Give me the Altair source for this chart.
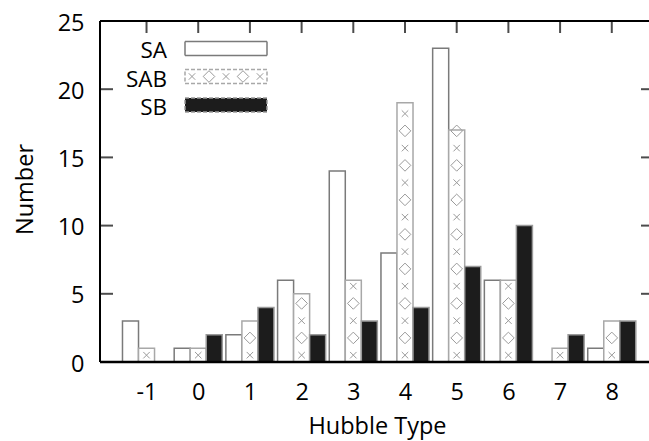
import altair as alt
import pandas as pd

# Galaxy counts per Hubble type for each bar family
hubble_types = [-1, 0, 1, 2, 3, 4, 5, 6, 7, 8]
sa_counts = [3, 1, 2, 6, 14, 8, 23, 6, 0, 1]
sab_counts = [1, 1, 3, 5, 6, 19, 17, 6, 1, 3]
sb_counts = [0, 2, 4, 2, 3, 4, 7, 10, 2, 3]
series_names = ["SA", "SAB", "SB"]
y_tick_values = [0, 5, 10, 15, 20, 25]

FONT = "Open Sans"
FS = 23.5
KEY_FS = 22.5
W, H = 549, 341
X_SCALE = alt.Scale(domain=[-1.9, 8.72], nice=False, zero=False)
Y_SCALE = alt.Scale(domain=[0, 25], nice=False, zero=False)
BAR_W = 0.31
GLYPH_STEP = 1.265  # vertical spacing of the hatch glyphs, in count units

X_AXIS = alt.Axis(
    values=hubble_types, labelExpr="'' + datum.value", ticks=False, domain=False, grid=False,
    labelFont=FONT, labelFontSize=FS, labelColor="black", labelPadding=18,
    title="Hubble Type", titleFont=FONT, titleFontSize=FS, titleFontWeight="normal",
    titleColor="black", titleX=277, titleY=71, titleBaseline="alphabetic",
    titleAnchor="middle",
)
Y_AXIS = alt.Axis(
    values=y_tick_values, ticks=False, domain=False, grid=False,
    labelFont=FONT, labelFontSize=FS, labelColor="black", labelPadding=16,
    labelOffset=2,
    title="Number", titleFont=FONT, titleFontSize=FS, titleFontWeight="normal",
    titleColor="black", titleAngle=270, titleX=-68, titleY=168,
    titleBaseline="alphabetic", titleAlign="center",
)

def xq(field):
    return alt.X(field, scale=X_SCALE, axis=X_AXIS, title="Hubble Type")

def yq(field):
    return alt.Y(field, scale=Y_SCALE, axis=Y_AXIS, title="Number")

# long table of bars
rows = []
for t, a, ab, b in zip(hubble_types, sa_counts, sab_counts, sb_counts):
    for name, v in zip(series_names, (a, ab, b)):
        rows.append({"type": t, "series": name, "count": v})
bars_df = pd.DataFrame(rows)

# hatch glyphs stacked inside each SAB bar (alternating x / diamond)
glyph_rows = []
for t, v in zip(hubble_types, sab_counts):
    k = 0
    while 0.5 + k * GLYPH_STEP < v:
        glyph_rows.append({"type": t, "level": 0.5 + k * GLYPH_STEP,
                           "glyph": "x" if k % 2 == 0 else "diamond"})
        k += 1
glyph_df = pd.DataFrame(glyph_rows)

one = alt.Data(values=[{}])

bars = (
    alt.Chart(bars_df)
    .transform_filter("datum.count > 0")
    .transform_calculate(slot="indexof(['SA','SAB','SB'], datum.series) - 1")
    .transform_calculate(
        left=f"datum.type + datum.slot * {BAR_W} - {BAR_W / 2}",
        right=f"datum.type + datum.slot * {BAR_W} + {BAR_W / 2}",
    )
    .mark_rect(strokeWidth=1.5)
    .encode(
        x=xq("left:Q"),
        x2="right:Q",
        y=yq("count:Q"),
        y2=alt.datum(0),
        fill=alt.Fill("series:N", scale=alt.Scale(domain=series_names,
                                                   range=["white", "white", "#1c1c1c"]), legend=None),
        stroke=alt.Stroke("series:N", scale=alt.Scale(domain=series_names,
                                                       range=["#7a7a7a", "#a8a8a8", "#9a9a9a"]), legend=None),
        strokeDash=alt.StrokeDash("series:N", scale=alt.Scale(domain=series_names,
                                                               range=[[1, 0], [4, 2], [4, 2]]), legend=None),
    )
)

X_GLYPH = "M-1,-1L1,1M1,-1L-1,1"

def glyph_layer(kind, shape, size):
    return (
        alt.Chart(glyph_df)
        .transform_filter(f"datum.glyph == '{kind}'")
        .mark_point(shape=shape, size=size, filled=False, stroke="#9a9a9a", strokeWidth=1, opacity=1)
        .encode(x=xq("type:Q"), y=yq("level:Q"))
    )

glyph_x = glyph_layer("x", X_GLYPH, 42)
glyph_d = glyph_layer("diamond", "diamond", 135)

# inward ticks on all four sides
tick_y = pd.DataFrame({"yv": y_tick_values})
tick_x = pd.DataFrame({"xv": hubble_types})
left_ticks = alt.Chart(tick_y).mark_tick(color="black", thickness=2, size=13, orient="horizontal").encode(
    y=yq("yv:Q"), x=alt.value(6.5))
right_ticks = alt.Chart(tick_y).mark_tick(color="black", thickness=2, size=8, orient="horizontal").encode(
    y=yq("yv:Q"), x=alt.value(W - 4))
top_ticks = alt.Chart(tick_x).mark_tick(color="black", thickness=2, size=12, orient="vertical").encode(
    x=xq("xv:Q"), y=alt.value(6))
bottom_ticks = alt.Chart(tick_x).mark_tick(color="black", thickness=2, size=12, orient="vertical").encode(
    x=xq("xv:Q"), y=alt.value(H - 6))

# frame: top, left and bottom border
frame_top = alt.Chart(one).mark_rule(color="black", strokeWidth=2).encode(
    x=alt.value(0), x2=alt.value(W), y=alt.value(0))
frame_left = alt.Chart(one).mark_rule(color="black", strokeWidth=2).encode(
    x=alt.value(0), y=alt.value(0), y2=alt.value(H))
frame_bottom = alt.Chart(one).mark_rule(color="black", strokeWidth=2.5).encode(
    x=alt.value(0), x2=alt.value(W), y=alt.value(H))

# key in the upper left corner
def key_row(name, baseline_y, box_top, fill, stroke, dash):
    label = alt.Chart(alt.Data(values=[{"label": name}])).mark_text(
        align="right", baseline="alphabetic", font=FONT, fontSize=KEY_FS, color="black"
    ).encode(text="label:N", x=alt.value(67), y=alt.value(baseline_y))
    box = alt.Chart(one).mark_rect(fill=fill, stroke=stroke, strokeWidth=1.5, strokeDash=dash).encode(
        x=alt.value(85), x2=alt.value(167), y=alt.value(box_top), y2=alt.value(box_top + 14))
    return [label, box]

key_layers = []
key_layers += key_row("SA", 37, 20.5, "white", "#7a7a7a", [1, 0])
key_layers += key_row("SAB", 66, 48.5, "white", "#a8a8a8", [4, 2])
key_layers += key_row("SB", 94, 77, "#1c1c1c", "#9a9a9a", [4, 2])
for i, gx in enumerate([92, 109, 126, 143, 160]):
    is_x = i % 2 == 0
    key_layers.append(
        alt.Chart(one).mark_point(
            shape=X_GLYPH if is_x else "diamond",
            size=42 if is_x else 135, filled=False, stroke="#9a9a9a", strokeWidth=1, opacity=1,
        ).encode(x=alt.value(gx), y=alt.value(55.5))
    )

chart = (
    alt.layer(
        left_ticks, right_ticks, top_ticks, bottom_ticks,
        bars, glyph_x, glyph_d,
        frame_top, frame_left, frame_bottom,
        *key_layers,
    )
    .properties(
        width=W, height=H,
        padding={"left": 100, "top": 21, "right": 0, "bottom": 79},
        autosize=alt.AutoSizeParams(type="none"),
        background="white",
    )
    .configure_view(stroke=None)
)

chart.save("out.html", embed_options={"renderer": "svg", "actions": False})
